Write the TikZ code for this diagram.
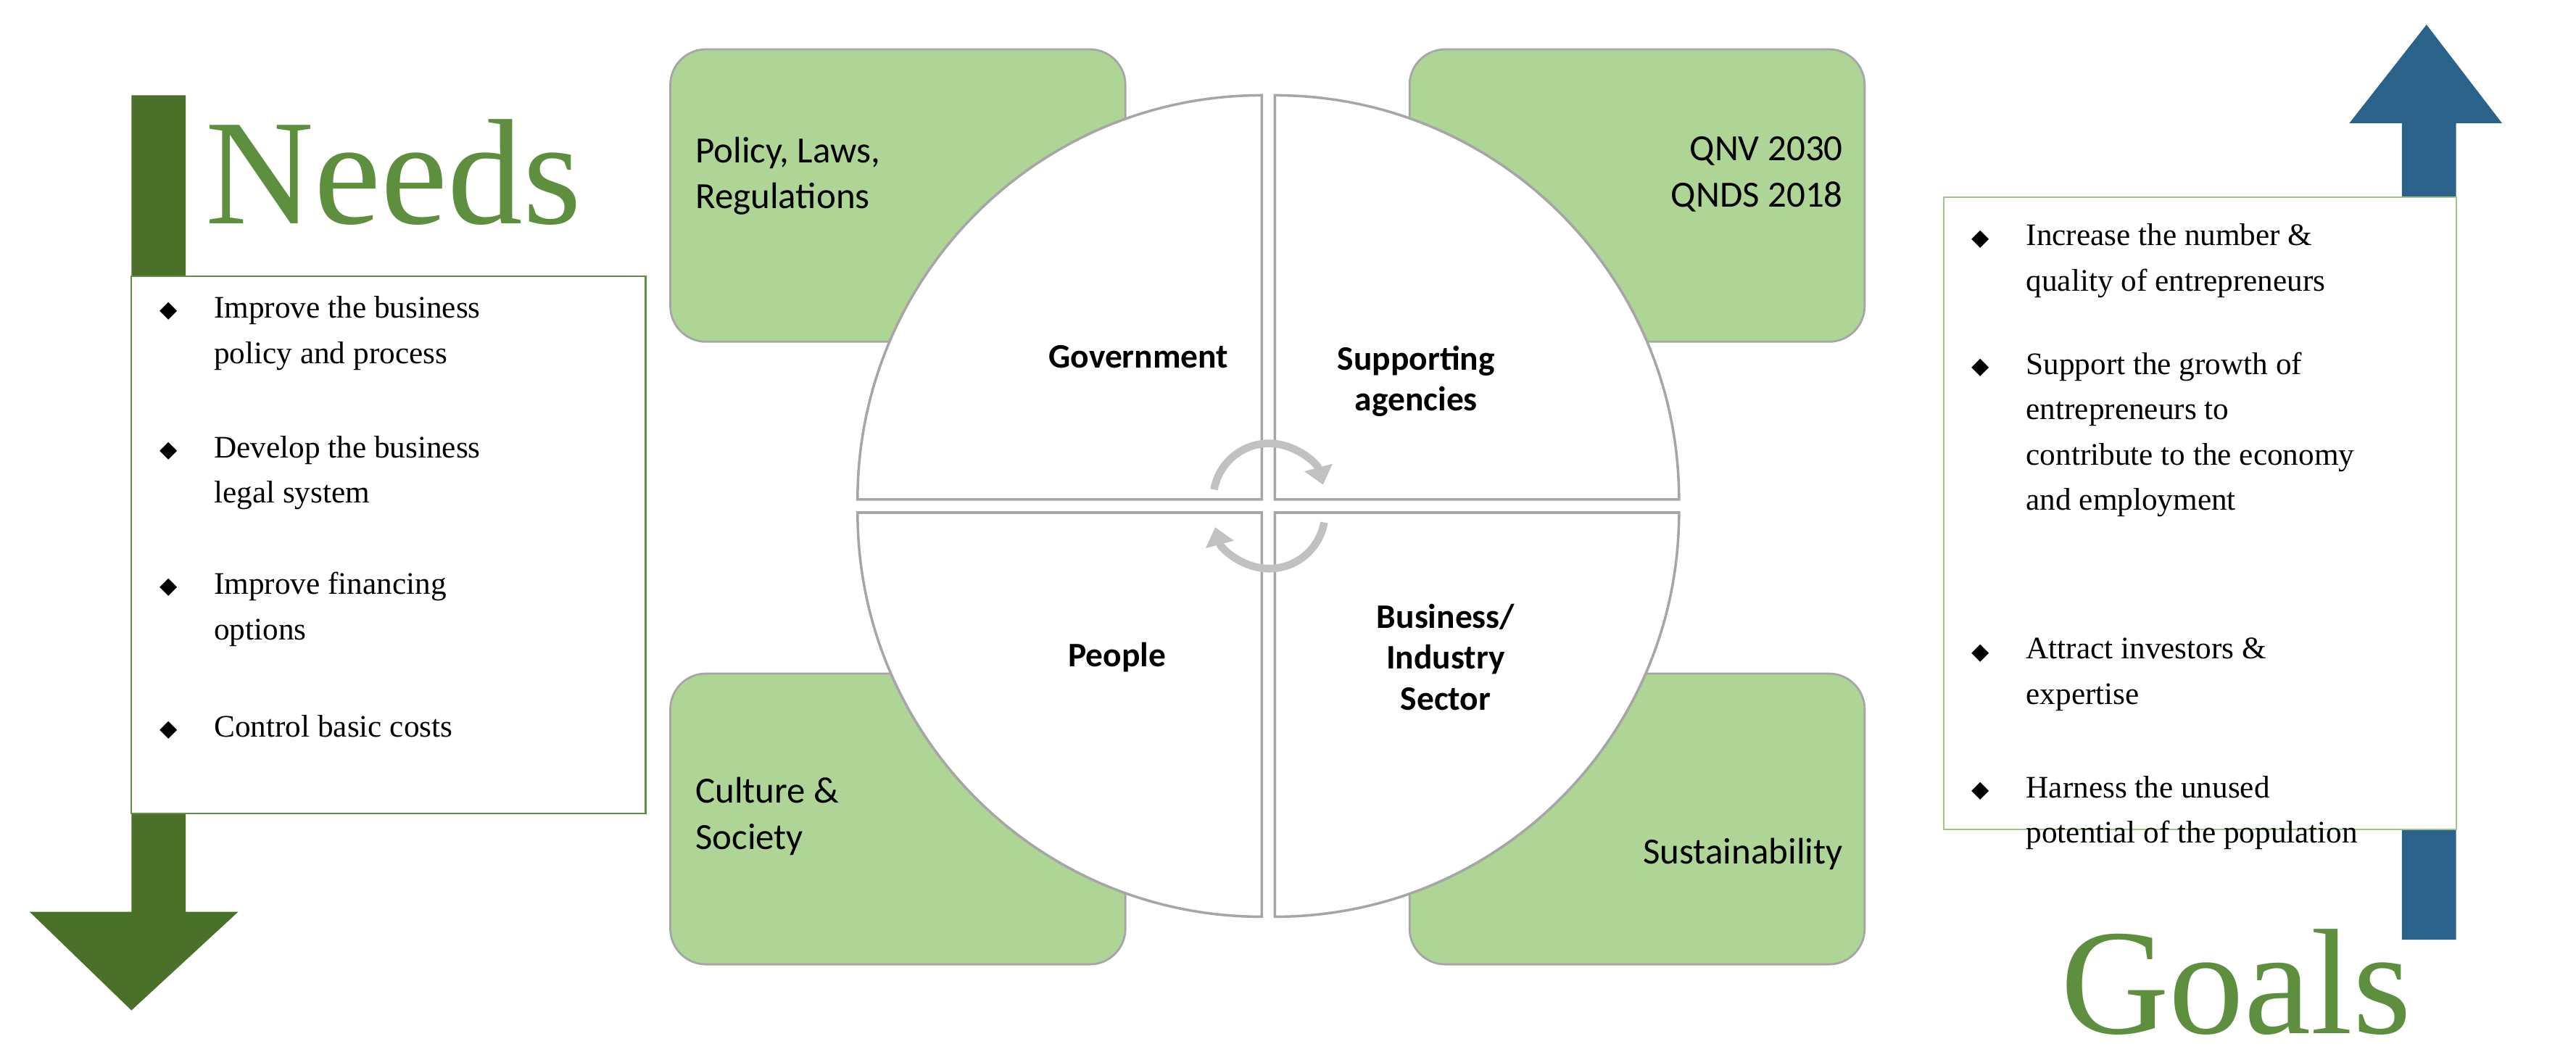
\documentclass[tikz,border=0pt]{standalone}
\usepackage{fontspec}
\setmainfont{Liberation Serif}
\newfontfamily\carlfont{Carlito}
\newfontfamily\dsymfont{DejaVu Sans}
\usetikzlibrary{arrows.meta}
\definecolor{dg}{HTML}{4B7029}
\definecolor{tg}{HTML}{5E8F3F}
\definecolor{lg}{HTML}{AED595}
\definecolor{bl}{HTML}{2A6289}
\definecolor{gr}{HTML}{A6A6A6}
\begin{document}
\begin{tikzpicture}[x=0.02266cm,y=-0.02266cm,
  gbox/.style={draw=gr,fill=lg,rounded corners=14pt,line width=0.8pt},
  quarter/.style={draw=gr,fill=white,line width=1pt},
  btxt/.style={font=\fontsize{12.3}{17.8}\selectfont,anchor=north west,inner sep=0pt,align=left},
  ctxt/.style={font=\carlfont\bfseries\fontsize{13.5}{16}\selectfont,align=center},
  stxt/.style={font=\carlfont\fontsize{14.5}{18}\selectfont,inner sep=0pt},
  big/.style={font=\fontsize{59}{64}\selectfont,text=tg,inner sep=0pt}]
\useasboundingbox (0,0) rectangle (1568,640);
% needs arrow
\fill[dg] (80,58) -- (113,58) -- (113,555) -- (145,555) -- (80,615) -- (18,555) -- (80,555) -- cycle;
\node[big,anchor=west] (needs) at (125,105) {Needs};
\draw[draw=tg,fill=white,line width=0.6pt] (80,168) rectangle (393,495);
\foreach \y/\t in {180/{Improve the business\\policy and process},265/{Develop the business\\legal system},348/{Improve financing\\options},435/{Control basic costs}}{
  \node[font=\dsymfont\fontsize{9}{10}\selectfont,anchor=north west,inner sep=0pt] at (97,\y+4) {◆};
  \node[btxt] at (130,\y) {\t};}
% goals arrow
\fill[bl] (1462,572) -- (1495,572) -- (1495,75) -- (1523,75) -- (1477,15) -- (1430,75) -- (1462,75) -- cycle;
\draw[draw=lg!80!tg,fill=white,line width=0.6pt] (1183,120) rectangle (1495,505);
\foreach \y/\t in {136/{Increase the number \&\\quality of entrepreneurs},214/{Support the growth of\\entrepreneurs to\\contribute to the economy\\and employment},388/{Attract investors \&\\expertise},472/{Harness the unused\\potential of the population}}{
  \node[font=\dsymfont\fontsize{9}{10}\selectfont,anchor=north west,inner sep=0pt] at (1200,\y+4) {◆};
  \node[btxt] at (1233,\y) {\t};}
\node[big,anchor=west] (goals) at (1254,598) {Goals};
% green boxes
\draw[gbox] (408,30) rectangle (685,208);
\draw[gbox] (858,30) rectangle (1135,208);
\draw[gbox] (408,410) rectangle (685,587);
\draw[gbox] (858,410) rectangle (1135,587);
\node[stxt,anchor=north west,align=left] (plr) at (423,83) {Policy, Laws,\\Regulations};
\node[stxt,anchor=north east,align=right] (qnv) at (1122,83) {QNV 2030\\QNDS 2018};
\node[stxt,anchor=north west,align=left] (cs) at (423,473) {Culture \&\\Society};
\node[stxt,anchor=east] (sus) at (1122,520) {Sustainability};
% quarters
\draw[quarter] (768,304) -- (768,58) arc[start angle=-90,end angle=-180,radius=246] -- cycle;
\draw[quarter] (776,304) -- (776,58) arc[start angle=-90,end angle=0,radius=246] -- cycle;
\draw[quarter] (768,312) -- (768,558) arc[start angle=90,end angle=180,radius=246] -- cycle;
\draw[quarter] (776,312) -- (776,558) arc[start angle=90,end angle=0,radius=246] -- cycle;
\node[ctxt] (gov) at (693,217) {Government};
\node[ctxt] (sup) at (862,232) {Supporting\\agencies};
\node[ctxt] (ppl) at (680,400) {People};
\node[ctxt] (bis) at (880,400) {Business/\\Industry\\Sector};
% cycle arrows
\draw[gr!70,line width=3pt,-{Triangle[length=7pt,width=11pt]}] (739,298) arc[start angle=-170,end angle=-15,radius=34];
\draw[gr!70,line width=3pt,-{Triangle[length=7pt,width=11pt]}] (806,318) arc[start angle=10,end angle=165,radius=34];
\end{tikzpicture}
\end{document}
